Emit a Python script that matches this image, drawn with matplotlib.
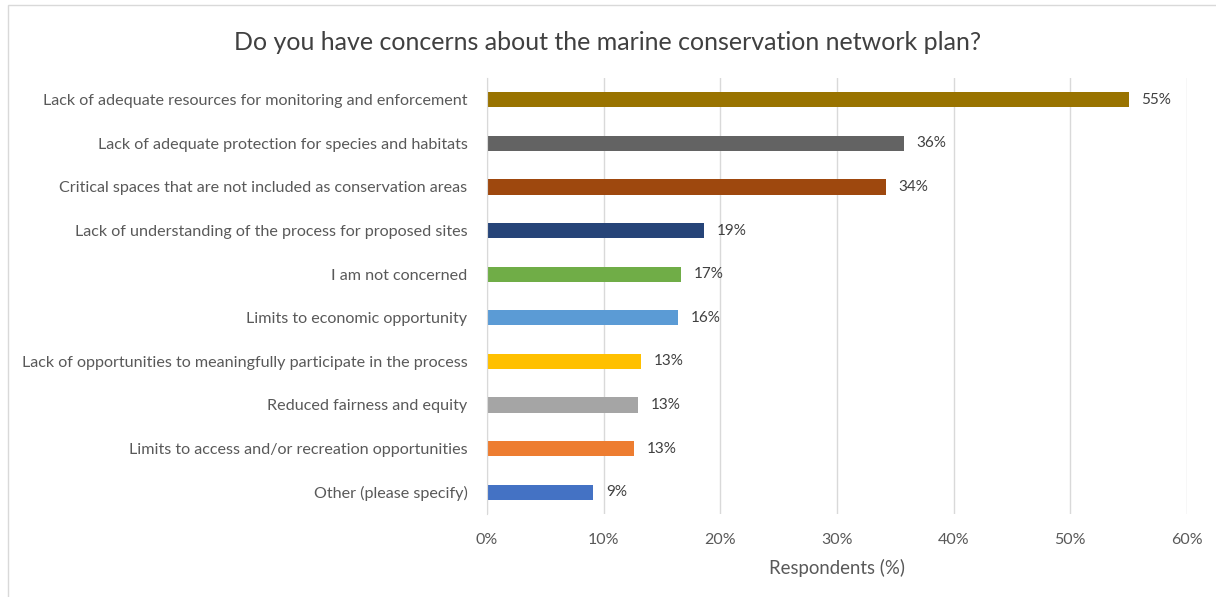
import matplotlib.pyplot as plt
from matplotlib.patches import Rectangle

# survey answers, top to bottom as shown
categories = [
    "Lack of adequate resources for monitoring and enforcement",
    "Lack of adequate protection for species and habitats",
    "Critical spaces that are not included as conservation areas",
    "Lack of understanding of the process for proposed sites",
    "I am not concerned",
    "Limits to economic opportunity",
    "Lack of opportunities to meaningfully participate in the process",
    "Reduced fairness and equity",
    "Limits to access and/or recreation opportunities",
    "Other (please specify)",
]
values = [55.0, 35.7, 34.2, 18.6, 16.6, 16.4, 13.2, 12.9, 12.6, 9.1]
colors = ["#997300", "#636363", "#9E480E", "#264478", "#70AD47",
          "#5B9BD5", "#FFC000", "#A5A5A5", "#ED7D31", "#4472C4"]
xticks = [0, 10, 20, 30, 40, 50, 60]

plt.rcParams['font.family'] = ['Lato', 'DejaVu Sans']

fig = plt.figure(figsize=(12.16, 5.97), dpi=100)
fig.patches.append(Rectangle((8 / 1216, -0.01), 1.0, 1 - 5 / 597 + 0.01,
                             transform=fig.transFigure, fill=False,
                             edgecolor="#d9d9d9", linewidth=1.0))

ax = fig.add_axes([487 / 1216, 1 - 514 / 597, 700 / 1216, 436 / 597])
ypos = list(range(len(categories)))
ax.barh(ypos, values, height=0.35, color=colors)
ax.set_ylim(len(categories) - 0.5, -0.5)
ax.set_xlim(0, 60)

for y, v in zip(ypos, values):
    ax.text(v + 1.1, y, f"{v:.0f}%", va="center", ha="left",
            fontsize=11, color="#404040")

ax.set_yticks(ypos)
ax.set_yticklabels(categories, fontsize=11.6, color="#595959")
ax.set_xticks(xticks)
ax.set_xticklabels([f"{t}%" for t in xticks], fontsize=11.5, color="#595959")
ax.tick_params(length=0)
ax.tick_params(axis="y", pad=14)
ax.tick_params(axis="x", pad=14)

ax.grid(axis="x", color="#d9d9d9", linewidth=1.0)
ax.set_axisbelow(True)
for s in ["top", "right", "bottom"]:
    ax.spines[s].set_visible(False)
ax.spines["left"].set_color("#d9d9d9")

ax.set_xlabel("Respondents (%)", fontsize=13.4, color="#595959", labelpad=8)
fig.text(0.5, 1 - 42 / 597, "Do you have concerns about the marine conservation network plan?",
         ha="center", va="center", fontsize=18, color="#404040")

fig.savefig("out.png", dpi=100)
